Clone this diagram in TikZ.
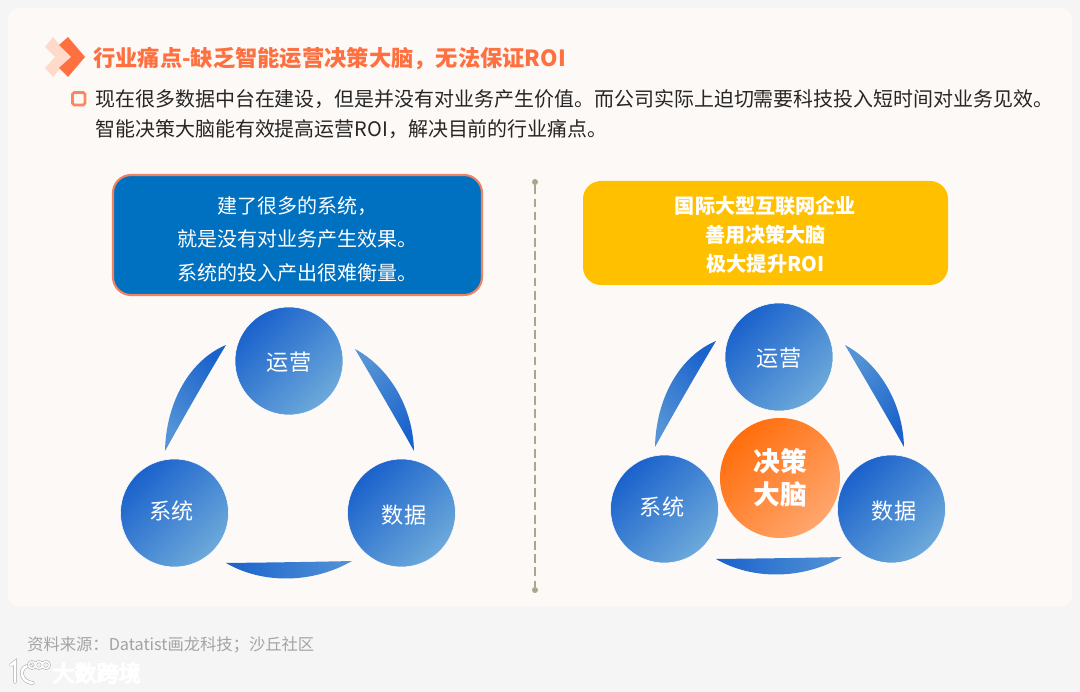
\documentclass[tikz,border=0pt]{standalone}
\usepackage{fontspec}
\setmainfont{Noto Sans CJK SC}
\usepackage{xcolor}
\usetikzlibrary{positioning,calc}
\definecolor{pagebg}{HTML}{F5F5F5}
\definecolor{panelbg}{HTML}{FDF9F6}
\definecolor{accent}{HTML}{FF7040}
\definecolor{accentpale}{HTML}{FFD9CA}
\definecolor{ink}{HTML}{262626}
\definecolor{boxblue}{HTML}{0070C0}
\definecolor{boxedge}{HTML}{EE8262}
\definecolor{boxyellow}{HTML}{FFC000}
\definecolor{balldark}{HTML}{1A62CC}
\definecolor{balllight}{HTML}{6DA9DA}
\definecolor{brainlight}{HTML}{FFA66E}
\definecolor{braindark}{HTML}{FF6E0C}
\definecolor{divider}{HTML}{A8A88C}
\definecolor{srcgray}{HTML}{A3A3A3}
\newcommand{\unitpx}{*0.02cm}
\tikzset{
  ball/.style={circle,minimum size=108\unitpx,inner sep=0pt,
    draw=white,line width=0.3pt,left color=balldark,right color=balllight,shading angle=45},
  balltxt/.style={inner sep=0pt,text=white,font=\fontsize{12.6}{15}\selectfont},
  brain/.style={circle,minimum size=120\unitpx,inner sep=0pt,text=white,align=center,
    font=\fontsize{15.2}{18.8}\bfseries\selectfont,left color=braindark,right color=brainlight,shading angle=45},
  msgbox/.style={rectangle,rounded corners=18\unitpx,align=center,text=white,inner sep=0pt},
  blade/.style={left color=balldark,right color=balllight!70!balldark},
  endpt/.style={circle,fill=divider,inner sep=0pt,minimum size=6\unitpx},
  logoline/.style={draw=black!35,double=white,double distance=1.5pt,line width=0.3pt,line cap=round},
}
\begin{document}
\begin{tikzpicture}[x=0.02cm,y=-0.02cm]
  \useasboundingbox (0,0) rectangle (1080,692);
  \fill[pagebg] (0,0) rectangle (1080,692);
  \fill[panelbg,rounded corners=6pt] (8,8) rectangle (1072,606);
  % title
  \fill[accentpale] (45,47) -- (53,37) -- (70,57) -- (53,77) -- (45,68) -- (55,57) -- cycle;
  \fill[accent] (59,45) -- (68,37) -- (85,57) -- (68,77) -- (59,68) -- (71,57) -- cycle;
  \node[anchor=west,inner sep=0pt,text=accent,font=\fontsize{12.67}{15}\bfseries\selectfont] (title) at (93,59)
    {行业痛点-缺乏智能运营决策大脑，无法保证ROI};
  \draw[accent!85!white,line width=1.5pt,rounded corners=1pt] (72.5,92.5) rectangle (85,105);
  \node[anchor=north west,inner sep=0pt,text=ink,align=left,font=\fontsize{11.36}{17.07}\selectfont] (intro) at (95,89.5)
    {现在很多数据中台在建设，但是并没有对业务产生价值。而公司实际上迫切需要科技投入短时间对业务见效。\\
     智能决策大脑能有效提高运营ROI，解决目前的行业痛点。};
  % top boxes
  \node[msgbox,fill=boxblue,draw=boxedge,line width=1.2pt,minimum width=369\unitpx,minimum height=120\unitpx] (pain) at (297.5,235) {};
  \node[align=center,inner sep=0pt,text=white,font=\fontsize{11.4}{19.1}\selectfont] (paintxt) at (297.5,239)
    {建了很多的系统，\\就是没有对业务产生效果。\\系统的投入产出很难衡量。};
  \node[msgbox,fill=boxyellow,minimum width=365\unitpx,minimum height=104\unitpx] (gain) at (765.5,233) {};
  \node[align=center,inner sep=0pt,text=white,font=\fontsize{11.45}{16.5}\bfseries\selectfont] (gaintxt) at (765.5,235)
    {国际大型互联网企业\\善用决策大脑\\极大提升ROI};
  % divider
  \node[endpt] (divtop) at (535,182) {};
  \node[endpt] (divbot) at (535,590) {};
  \draw[divider,line width=1pt,dashed,dash pattern=on 5pt off 2.5pt] (divtop) -- (divbot);
  % circles and blades
  \foreach \g/\dx/\dy in {l/0/0,r/490/-4}{
    \begin{scope}[shift={(\dx,\dy)}]
      \node[ball] (yy\g) at (289,361) {};
      \node[ball] (xt\g) at (174.5,513) {};
      \node[ball] (sj\g) at (401.5,513) {};
      \node[balltxt] (yytxt\g) at (289,362) {运营};
      \node[balltxt] (xttxt\g) at (172,511) {系统};
      \node[balltxt] (sjtxt\g) at (404,515) {数据};
      \shade[blade,shading angle=-45] (226,345) .. controls (190,360) and (166,402) .. (165,451)
        .. controls (185,415) and (205,380) .. cycle;
      \shade[blade,shading angle=-135] (355,349) .. controls (390,368) and (413,408) .. (414,451)
        .. controls (395,417) and (375,383) .. cycle;
      \shade[blade,shading angle=90] (226,563) .. controls (262,584) and (312,584) .. (352,561)
        .. controls (310,562) and (268,562.5) .. cycle;
    \end{scope}
  }
  \node[brain] (dc) at (780,478) {决策\\大脑};
  % source
  \node[anchor=west,inner sep=0pt,text=srcgray,font=\fontsize{9.27}{11}\selectfont] (src) at (27,645)
    {资料来源：Datatist画龙科技；沙丘社区};
  \draw[logoline] (11,665) -- (15,662) -- (15,682);
  \draw[logoline] (31,666) .. controls (19,664) and (18,682) .. (33,683);
  \draw[logoline,double distance=0.9pt] (32,665) circle (3.5) (39,665) circle (3.5) (46,665) circle (3.5);
  \node[anchor=west,inner sep=0pt,font=\fontsize{12.6}{14}\selectfont] (mark) at (52,673)
    {\special{pdf:code q 2 Tr 0.7 w 0.6 G}\textcolor{white}{大数跨境}\special{pdf:code Q}};
\end{tikzpicture}
\end{document}
